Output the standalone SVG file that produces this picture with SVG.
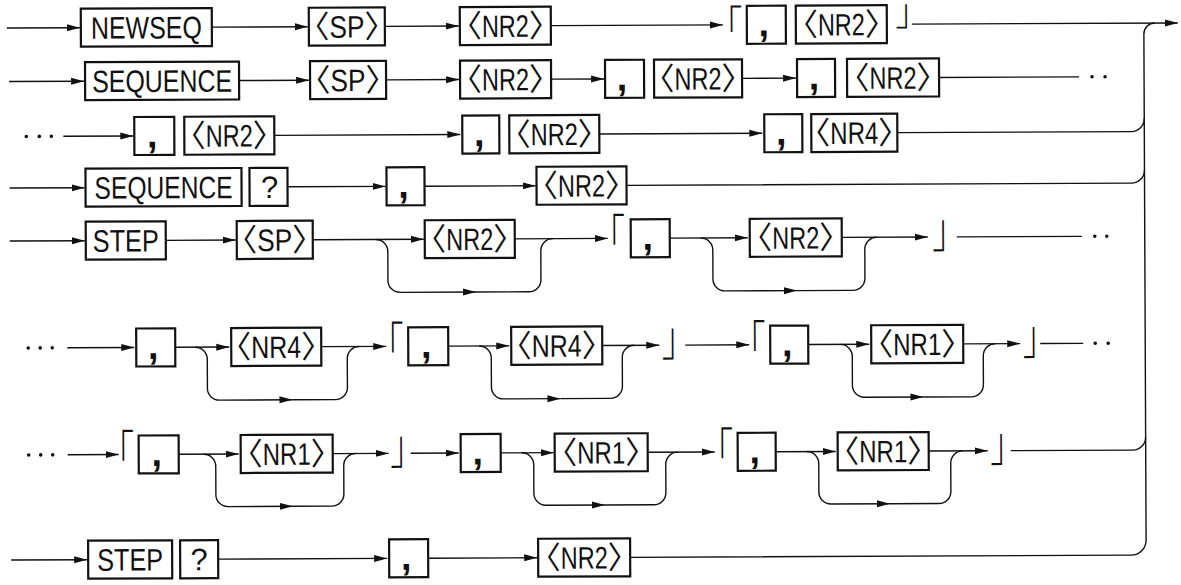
<svg xmlns="http://www.w3.org/2000/svg" width="1181" height="585" viewBox="0 0 1181 585">
<defs>
<style>
.box{fill:none;stroke:#111;stroke-width:2.2}
.ln{fill:none;stroke:#111;stroke-width:1.4}
.ar{marker-end:url(#a)}
.t{font-family:"Liberation Sans","Noto Sans CJK JP",sans-serif;font-size:31px;fill:#111;text-anchor:middle}
.lt{font-family:"Liberation Sans",sans-serif;font-size:31px;fill:#111}
.ab{font-family:"Noto Sans CJK JP",sans-serif;font-size:31px;fill:#111}
.cm{font-family:"Liberation Sans",sans-serif;font-size:38px;font-weight:bold;fill:#111;text-anchor:middle}
.br{font-family:"Noto Sans CJK JP",sans-serif;font-size:34px;fill:#111;text-anchor:middle;font-weight:300}
.dot{fill:#111}
</style>
<marker id="a" markerUnits="userSpaceOnUse" markerWidth="14" markerHeight="8" refX="13" refY="4" orient="auto"><path d="M0,0.5 L13,4 L0,7.5 z" fill="#111"/></marker>
</defs>
<rect width="1181" height="585" fill="#fff"/>
<g transform="rotate(-0.25 590 292)">
<g id="connectors">
<path class="ln ar" d="M8,25.5 H81"/>
<path class="ln ar" d="M213,25.5 H309"/>
<path class="ln ar" d="M386,25.5 H460"/>
<path class="ln ar" d="M552,25.5 H724"/>
<path class="ln ar" d="M913,25.5 H1179"/>
<path class="ln ar" d="M10,79 H85"/>
<path class="ln ar" d="M240,79 H310"/>
<path class="ln ar" d="M387,79 H460"/>
<path class="ln ar" d="M552,79 H605"/>
<path class="ln ar" d="M743,79 H797"/>
<path class="ln" d="M940,79 H1080"/>
<path class="ln ar" d="M64,134 H134"/>
<path class="ln ar" d="M275,134 H461"/>
<path class="ln ar" d="M600,134 H763"/>
<path class="ln" d="M898,134 H1132 A13,13 0 0 0 1145,121"/>
<path class="ln ar" d="M10,185.5 H85"/>
<path class="ln ar" d="M288,185.5 H386"/>
<path class="ln ar" d="M425,185.5 H536"/>
<path class="ln" d="M627,185.5 H1132 A13,13 0 0 0 1145,172.5"/>
<path class="ln ar" d="M10,238.5 H85"/>
<path class="ln ar" d="M166,238.5 H236"/>
<path class="ln ar" d="M313,238.5 H424"/>
<path class="ln ar" d="M515,238.5 H608"/>
<path class="ln ar" d="M376,238.5 A12,12 0 0 1 388,250.5 V279.5 A12,12 0 0 0 400,291.5 H476"/>
<path class="ln" d="M476,291.5 H529 A12,12 0 0 0 541,279.5 V250.5 A12,12 0 0 1 553,238.5"/>
<path class="ln ar" d="M670,238.5 H748"/>
<path class="ln ar" d="M701,238.5 A12,12 0 0 1 713,250.5 V279.5 A12,12 0 0 0 725,291.5 H797"/>
<path class="ln" d="M797,291.5 H853 A12,12 0 0 0 865,279.5 V250.5 A12,12 0 0 1 877,238.5"/>
<path class="ln ar" d="M842,238.5 H928"/>
<path class="ln" d="M957,238.5 H1082"/>
<path class="ln ar" d="M67,345.5 H134"/>
<path class="ln ar" d="M175,345.5 H229"/>
<path class="ln ar" d="M195,345.5 A12,12 0 0 1 207,357.5 V386.5 A12,12 0 0 0 219,398.5 H292"/>
<path class="ln" d="M292,398.5 H335 A12,12 0 0 0 347,386.5 V357.5 A12,12 0 0 1 359,345.5"/>
<path class="ln ar" d="M321,345.5 H386"/>
<path class="ln ar" d="M448,345.5 H509"/>
<path class="ln ar" d="M479,345.5 A12,12 0 0 1 491,357.5 V386.5 A12,12 0 0 0 503,398.5 H560"/>
<path class="ln" d="M560,398.5 H610 A12,12 0 0 0 622,386.5 V357.5 A12,12 0 0 1 634,345.5"/>
<path class="ln ar" d="M602,345.5 H659"/>
<path class="ln ar" d="M685,345.5 H749"/>
<path class="ln ar" d="M808,345.5 H869"/>
<path class="ln ar" d="M840,345.5 A12,12 0 0 1 852,357.5 V386.5 A12,12 0 0 0 864,398.5 H923"/>
<path class="ln" d="M923,398.5 H971 A12,12 0 0 0 983,386.5 V357.5 A12,12 0 0 1 995,345.5"/>
<path class="ln ar" d="M963,345.5 H1020"/>
<path class="ln" d="M1040,345.5 H1083"/>
<path class="ln ar" d="M67,452.5 H118"/>
<path class="ln ar" d="M178,452.5 H238"/>
<path class="ln ar" d="M203,452.5 A12,12 0 0 1 215,464.5 V493 A12,12 0 0 0 227,505 H292"/>
<path class="ln" d="M292,505 H331 A12,12 0 0 0 343,493 V464.5 A12,12 0 0 1 355,452.5"/>
<path class="ln ar" d="M332,452.5 H388"/>
<path class="ln ar" d="M410,452.5 H458"/>
<path class="ln ar" d="M500,452.5 H553"/>
<path class="ln ar" d="M521,452.5 A12,12 0 0 1 533,464.5 V493 A12,12 0 0 0 545,505 H604"/>
<path class="ln" d="M604,505 H653 A12,12 0 0 0 665,493 V464.5 A12,12 0 0 1 677,452.5"/>
<path class="ln ar" d="M647,452.5 H714"/>
<path class="ln ar" d="M775,452.5 H835"/>
<path class="ln ar" d="M806,452.5 A12,12 0 0 1 818,464.5 V493 A12,12 0 0 0 830,505 H889"/>
<path class="ln" d="M889,505 H938 A12,12 0 0 0 950,493 V464.5 A12,12 0 0 1 962,452.5"/>
<path class="ln ar" d="M928,452.5 H987"/>
<path class="ln" d="M1010,452.5 H1132 A13,13 0 0 0 1145,439.5"/>
<path class="ln ar" d="M10,557.5 H86"/>
<path class="ln ar" d="M217,557.5 H386"/>
<path class="ln ar" d="M427,557.5 H536"/>
<path class="ln" d="M629,557.5 H1130 A15,15 0 0 0 1145,542.5 V36.5 A11,11 0 0 1 1156,25.5"/>
<circle class="dot" cx="1093" cy="79" r="1.8"/><circle class="dot" cx="1106" cy="79" r="1.8"/>
<circle class="dot" cx="27" cy="134" r="1.8"/><circle class="dot" cx="40" cy="134" r="1.8"/><circle class="dot" cx="52" cy="134" r="1.8"/>
<circle class="dot" cx="1095" cy="238.5" r="1.8"/><circle class="dot" cx="1107" cy="238.5" r="1.8"/>
<circle class="dot" cx="28" cy="345.5" r="1.8"/><circle class="dot" cx="40" cy="345.5" r="1.8"/><circle class="dot" cx="52" cy="345.5" r="1.8"/>
<circle class="dot" cx="1095" cy="345.5" r="1.8"/><circle class="dot" cx="1108" cy="345.5" r="1.8"/>
<circle class="dot" cx="28" cy="452.5" r="1.8"/><circle class="dot" cx="40" cy="452.5" r="1.8"/><circle class="dot" cx="52" cy="452.5" r="1.8"/>
</g>
<g id="brackets">
<text class="br" transform="translate(726.5,40.5) scale(1,1.2)">「</text>
<text class="br" transform="translate(913.5,26.9) scale(1,1.1)">」</text>
<text class="br" transform="translate(608.5,253.9) scale(1,1.4)">「</text>
<text class="br" transform="translate(949.5,249.1) scale(1,1.4)">」</text>
<text class="br" transform="translate(386.5,360.9) scale(1,1.4)">「</text>
<text class="br" transform="translate(678.5,356.1) scale(1,1.4)">」</text>
<text class="br" transform="translate(748.5,360.9) scale(1,1.4)">「</text>
<text class="br" transform="translate(1039.5,356.1) scale(1,1.4)">」</text>
<text class="br" transform="translate(116.5,467.9) scale(1,1.4)">「</text>
<text class="br" transform="translate(406.5,463.1) scale(1,1.4)">」</text>
<text class="br" transform="translate(715.5,467.9) scale(1,1.4)">「</text>
<text class="br" transform="translate(1006.5,463.1) scale(1,1.4)">」</text>
</g>
<!-- row 1 -->
<g id="r1-newseq"><rect class="box" x="82" y="6.5" width="131" height="38"/><text class="t" transform="translate(147.5,36.5) scale(0.8055,1)">NEWSEQ</text></g>
<g id="r1-sp"><rect class="box" x="310" y="6.5" width="76" height="38"/><text class="ab" x="299.5" y="36.5">〈</text><text class="lt" transform="translate(330.5,36.5) scale(0.8464,1)">SP</text><text class="ab" x="365.5" y="36.5">〉</text></g>
<g id="r1-nr2a"><rect class="box" x="461" y="6.5" width="91" height="38"/><text class="ab" x="452" y="36.5">〈</text><text class="lt" transform="translate(483,36.5) scale(0.758,1)">NR2</text><text class="ab" x="530" y="36.5">〉</text></g>
<g id="r1-comma"><rect class="box" x="748" y="6.5" width="39" height="38"/><text class="cm" x="765" y="37">,</text></g>
<g id="r1-nr2b"><rect class="box" x="797" y="6.5" width="91" height="38"/><text class="ab" x="788" y="36.5">〈</text><text class="lt" transform="translate(819,36.5) scale(0.758,1)">NR2</text><text class="ab" x="866" y="36.5">〉</text></g>
<!-- row 2 -->
<g id="r2-sequence"><rect class="box" x="86" y="60" width="154" height="38"/><text class="t" transform="translate(163,90) scale(0.8046,1)">SEQUENCE</text></g>
<g id="r2-sp"><rect class="box" x="311" y="60" width="76" height="38"/><text class="ab" x="300.5" y="90">〈</text><text class="lt" transform="translate(331.5,90) scale(0.8464,1)">SP</text><text class="ab" x="366.5" y="90">〉</text></g>
<g id="r2-nr2a"><rect class="box" x="461" y="60" width="91" height="38"/><text class="ab" x="452" y="90">〈</text><text class="lt" transform="translate(483,90) scale(0.758,1)">NR2</text><text class="ab" x="530" y="90">〉</text></g>
<g id="r2-comma1"><rect class="box" x="606" y="60" width="39" height="38"/><text class="cm" x="623" y="90.5">,</text></g>
<g id="r2-nr2b"><rect class="box" x="655" y="60" width="88" height="38"/><text class="ab" x="644.5" y="90">〈</text><text class="lt" transform="translate(675.5,90) scale(0.758,1)">NR2</text><text class="ab" x="722.5" y="90">〉</text></g>
<g id="r2-comma2"><rect class="box" x="798" y="60" width="38" height="38"/><text class="cm" x="815" y="90.5">,</text></g>
<g id="r2-nr2c"><rect class="box" x="848" y="60" width="92" height="38"/><text class="ab" x="839.5" y="90">〈</text><text class="lt" transform="translate(870.5,90) scale(0.758,1)">NR2</text><text class="ab" x="917.5" y="90">〉</text></g>
<!-- row 3 -->
<g id="r3-comma1"><rect class="box" x="135" y="115" width="40" height="38"/><text class="cm" x="153" y="145.5">,</text></g>
<g id="r3-nr2a"><rect class="box" x="185" y="115" width="90" height="38"/><text class="ab" x="175.5" y="145">〈</text><text class="lt" transform="translate(206.5,145) scale(0.758,1)">NR2</text><text class="ab" x="253.5" y="145">〉</text></g>
<g id="r3-comma2"><rect class="box" x="463" y="115" width="37" height="38"/><text class="cm" x="480" y="145.5">,</text></g>
<g id="r3-nr2b"><rect class="box" x="510" y="115" width="90" height="38"/><text class="ab" x="500.5" y="145">〈</text><text class="lt" transform="translate(531.5,145) scale(0.758,1)">NR2</text><text class="ab" x="578.5" y="145">〉</text></g>
<g id="r3-comma3"><rect class="box" x="765" y="115" width="38" height="38"/><text class="cm" x="782" y="145.5">,</text></g>
<g id="r3-nr4"><rect class="box" x="812" y="115" width="86" height="38"/><text class="ab" x="800" y="145">〈</text><text class="lt" transform="translate(831,145) scale(0.774,1)">NR4</text><text class="ab" x="879" y="145">〉</text></g>
<!-- row 4 -->
<g id="r4-sequence"><rect class="box" x="86" y="166.5" width="156" height="38"/><text class="t" transform="translate(164,196.5) scale(0.793,1)">SEQUENCE</text></g>
<g id="r4-q"><rect class="box" x="250" y="166.5" width="38" height="38"/><text class="t" x="270" y="196.5">?</text></g>
<g id="r4-comma"><rect class="box" x="387" y="166.5" width="38" height="38"/><text class="cm" x="404" y="197">,</text></g>
<g id="r4-nr2"><rect class="box" x="537" y="166.5" width="90" height="38"/><text class="ab" x="527.5" y="196.5">〈</text><text class="lt" transform="translate(558.5,196.5) scale(0.758,1)">NR2</text><text class="ab" x="605.5" y="196.5">〉</text></g>
<!-- row 5 -->
<g id="r5-step"><rect class="box" x="86" y="219.5" width="80" height="38"/><text class="t" transform="translate(126,249.5) scale(0.815,1)">STEP</text></g>
<g id="r5-sp"><rect class="box" x="237" y="219.5" width="76" height="38"/><text class="ab" x="226.5" y="249.5">〈</text><text class="lt" transform="translate(257.5,249.5) scale(0.8464,1)">SP</text><text class="ab" x="292.5" y="249.5">〉</text></g>
<g id="r5-nr2a"><rect class="box" x="425" y="219.5" width="90" height="38"/><text class="ab" x="415.5" y="249.5">〈</text><text class="lt" transform="translate(446.5,249.5) scale(0.758,1)">NR2</text><text class="ab" x="493.5" y="249.5">〉</text></g>
<g id="r5-comma"><rect class="box" x="631" y="219.5" width="39" height="38"/><text class="cm" x="648" y="250">,</text></g>
<g id="r5-nr2b"><rect class="box" x="750" y="219.5" width="92" height="38"/><text class="ab" x="741.5" y="249.5">〈</text><text class="lt" transform="translate(772.5,249.5) scale(0.758,1)">NR2</text><text class="ab" x="819.5" y="249.5">〉</text></g>
<!-- row 6 -->
<g id="r6-comma1"><rect class="box" x="136" y="326.5" width="39" height="38"/><text class="cm" x="153" y="357">,</text></g>
<g id="r6-nr4a"><rect class="box" x="231" y="326.5" width="90" height="38"/><text class="ab" x="220" y="356.5">〈</text><text class="lt" transform="translate(251,356.5) scale(0.806,1)">NR4</text><text class="ab" x="301" y="356.5">〉</text></g>
<g id="r6-comma2"><rect class="box" x="408" y="326.5" width="40" height="38"/><text class="cm" x="426" y="357">,</text></g>
<g id="r6-nr4b"><rect class="box" x="511" y="326.5" width="91" height="38"/><text class="ab" x="500.5" y="356.5">〈</text><text class="lt" transform="translate(531.5,356.5) scale(0.806,1)">NR4</text><text class="ab" x="581.5" y="356.5">〉</text></g>
<g id="r6-comma3"><rect class="box" x="770" y="326.5" width="38" height="38"/><text class="cm" x="787" y="357">,</text></g>
<g id="r6-nr1"><rect class="box" x="871" y="326.5" width="92" height="38"/><text class="ab" x="862" y="356.5">〈</text><text class="lt" transform="translate(893,356.5) scale(0.774,1)">NR1</text><text class="ab" x="941" y="356.5">〉</text></g>
<!-- row 7 -->
<g id="r7-comma1"><rect class="box" x="138" y="433.5" width="40" height="38"/><text class="cm" x="156" y="464">,</text></g>
<g id="r7-nr1a"><rect class="box" x="240" y="433.5" width="92" height="38"/><text class="ab" x="231" y="463.5">〈</text><text class="lt" transform="translate(262,463.5) scale(0.774,1)">NR1</text><text class="ab" x="310" y="463.5">〉</text></g>
<g id="r7-comma2"><rect class="box" x="460" y="433.5" width="40" height="38"/><text class="cm" x="477" y="464">,</text></g>
<g id="r7-nr1b"><rect class="box" x="554" y="433.5" width="93" height="38"/><text class="ab" x="545.5" y="463.5">〈</text><text class="lt" transform="translate(576.5,463.5) scale(0.774,1)">NR1</text><text class="ab" x="624.5" y="463.5">〉</text></g>
<g id="r7-comma3"><rect class="box" x="737" y="433.5" width="38" height="38"/><text class="cm" x="754" y="464">,</text></g>
<g id="r7-nr1c"><rect class="box" x="837" y="433.5" width="91" height="38"/><text class="ab" x="827.5" y="463.5">〈</text><text class="lt" transform="translate(858.5,463.5) scale(0.774,1)">NR1</text><text class="ab" x="906.5" y="463.5">〉</text></g>
<!-- row 8 -->
<g id="r8-step"><rect class="box" x="87" y="538.5" width="84" height="38"/><text class="t" transform="translate(129,568.5) scale(0.815,1)">STEP</text></g>
<g id="r8-q"><rect class="box" x="179" y="538.5" width="38" height="38"/><text class="t" x="198" y="568.5">?</text></g>
<g id="r8-comma"><rect class="box" x="388" y="538.5" width="39" height="38"/><text class="cm" x="405" y="569">,</text></g>
<g id="r8-nr2"><rect class="box" x="537" y="538.5" width="92" height="38"/><text class="ab" x="528.5" y="568.5">〈</text><text class="lt" transform="translate(559.5,568.5) scale(0.758,1)">NR2</text><text class="ab" x="606.5" y="568.5">〉</text></g>
</g>
</svg>
